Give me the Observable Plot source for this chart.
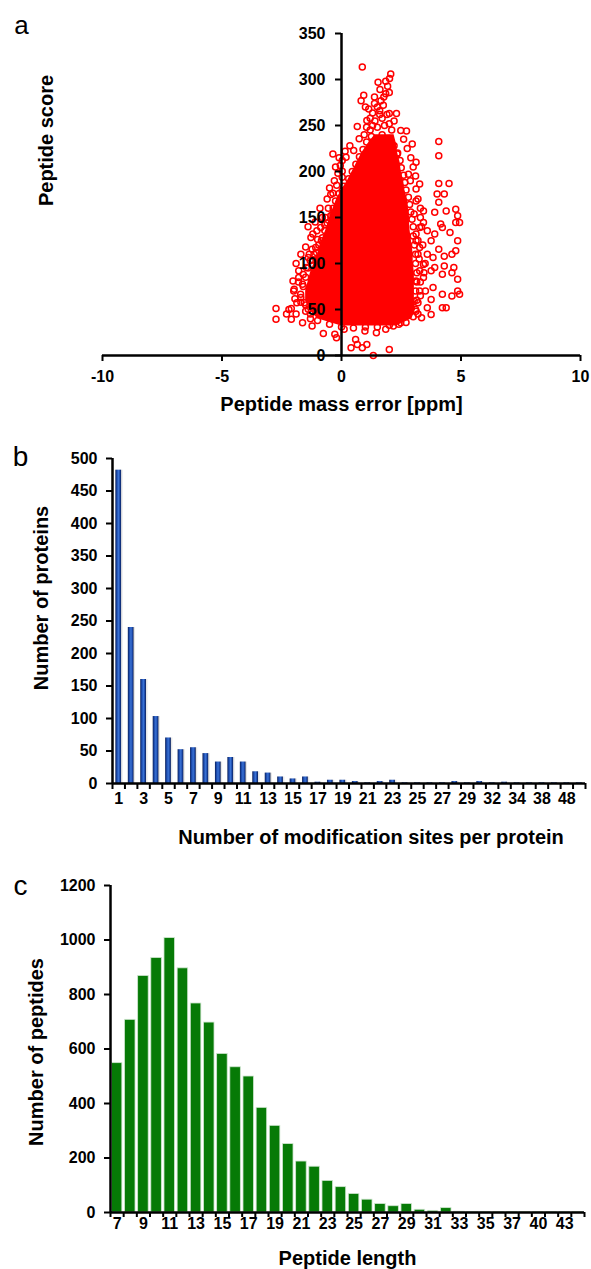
<!DOCTYPE html>
<html>
<head>
<meta charset="utf-8">
<script src="https://cdn.jsdelivr.net/npm/d3@7"></script>
<script src="https://cdn.jsdelivr.net/npm/@observablehq/plot@0.6"></script>
<style>
  html, body { margin: 0; padding: 0; background: #fff; }
  #wrap { width: 591px; }
  #wrap svg { display: block; }
</style>
</head>
<body>
<div id="wrap"></div>
<script>
// ---------------- DATA ----------------
// Panel a: peptide mass error (ppm) vs peptide score
const massErrorTicks = [-10, -5, 0, 5, 10];
const scoreTicks = [0, 50, 100, 150, 200, 250, 300, 350];

// dense (saturated) core of the scatter
const coreScore = [32, 40, 50, 60, 70, 80, 90, 100, 110, 120, 130, 140, 150, 160, 170, 180, 190, 200, 210, 220, 230, 240];
const coreLeft  = [0.0, -1.0, -1.35, -1.5, -1.5, -1.4, -1.3, -1.15, -1.0, -0.9, -0.75, -0.6, -0.5, -0.35, -0.2, 0.0, 0.25, 0.45, 0.65, 0.85, 1.1, 1.4];
const coreRight = [2.3, 2.95, 3.1, 3.05, 3.05, 3.05, 3.05, 3.0, 3.0, 2.95, 2.9, 2.85, 2.85, 2.8, 2.75, 2.65, 2.6, 2.5, 2.45, 2.35, 2.3, 2.2];

// individually visible circles (outliers and ragged edge of the cloud)
const scatterPoints = [
  [0.87,313.7],[2.06,306],[2.01,301],[1.53,297],[1.85,298],[1.93,292.6],[1.61,289],[1.85,284.6],[2.0,286],[1.77,281],
  [0.93,283],[0.82,277],[1.38,281],[1.0,270],[1.14,268],[1.38,274],[1.3,263.5],[1.6,266],[2.3,263],[2.0,263],
  [0.66,249],[1.06,255.5],[2.48,244.6],[2.72,244],[0.74,235.5],[2.96,230],[-0.36,219],[0.19,215.6],[0.51,222.8],[2.33,219],
  [3.12,210],[2.8,197],[3.27,186.5],[3.12,181],[2.88,190],[4.07,232.6],[4.07,217],[4.07,187],[4.5,187],[4.0,175.6],
  [4.3,175.6],[4.07,166.5],[3.43,157],[3.9,155.6],[4.38,157],[4.78,159],[4.86,152],[4.78,144.7],[4.94,144.7],[3.43,144.7],
  [4.15,143],[4.22,139],[3.59,135.6],[3.9,132],[4.54,133.8],[3.12,132],[3.75,124.7],[4.86,124.7],[3.27,117.4],[4.07,115.6],
  [3.59,110],[4.3,108],[4.62,110],[4.78,113.8],[3.83,106.5],[3.43,99],[3.9,95.6],[4.3,97.4],[4.7,95.6],[3.27,92],
  [3.75,92],[4.22,88.3],[4.62,90],[4.86,82.9],[3.43,84.7],[3.83,73.8],[3.51,70],[4.86,70],[4.94,66.5],[4.22,66.5],
  [4.62,64.7],[3.75,61],[3.2,57.4],[3.59,52],[4.22,52],[4.38,52],[3.35,41],[3.75,44.7],[2.48,35.6],[2.17,32],
  [1.85,28.4],[2.0,6.5],[1.33,0],[0.87,8.4],[0.4,8.4],[0.66,12],[1.06,12],[0.59,17.4],[1.46,24.7],[0.98,26.5],
  [0.11,28.4],[-0.28,23],[-0.21,19.3],[-0.76,24],[-1.23,32],[-1.63,35.6],[-2.1,39.3],[-2.74,39.3],[-2.74,51],[-2.1,51],
  [-1.98,72],[-1.95,61.8],[-1.79,92],[-1.31,103],[-1.15,110],[-1.23,115.6],[-1.08,117.4],[-0.84,124.7],[-1.28,128.3],[-1.03,135.6],
  [-0.87,139],[-0.68,150],[-0.36,153.8],[-0.36,176.3],[0.03,179],[0.03,193.7],[0.03,200.3],[0.03,212],[-0.05,206.5],[0.59,183],
  [0.43,172],
  // left lower fringe
  [-1.8,80],[-1.9,100],[-2.0,70],[-1.7,110],[-1.5,118],[-2.2,50],[-2.3,45],[-1.6,88],[-1.3,40],[-1.9,45],
  [-1.5,48],[-1.7,58],[-1.4,140],[-1.2,132],[-1.1,145],[-0.9,160],[-0.6,170],[-0.5,182],[-0.3,190],[-0.15,198],[-0.8,150],
  [-0.55,160],[-0.45,175],[-0.2,185],[-0.25,205],[-0.1,215],[0.15,222],[0.35,228],[-0.7,142],[-1.0,126],[-1.35,110],
  [-1.79,84.7],[-1.63,77.4],[-1.47,95.6],[-2.03,81],[-1.31,70],[-1.71,66.5],[-1.55,57.4],[-1.16,57.4],[-1.39,50.2],
  [-1.0,46.5],[-1.87,57.4],[-1.39,106.5],[-1.0,95.6],
  // right fringe
  [3.3,150],[3.4,120],[3.5,100],[3.3,80],[3.2,170],[3.35,140],[3.25,105],[3.3,65],[3.2,45],[3.45,90],[3.3,160],[3.2,125],
  [3.1,195],[3.0,205],[2.9,215],[2.75,225],[2.6,235],
  [3.12,168],[3.04,153.8],[3.27,139],[3.12,124.7],[3.2,110],[3.12,81],[3.27,70],[3.04,59],[3.12,48],
  // top of the cloud
  [1.2,245],[1.5,248],[1.8,250],[2.1,245],[1.4,255],[1.7,258],[2.0,252],[1.6,262],[1.3,250],[1.9,262],[2.2,255],
  [1.5,270],[1.75,272],[1.65,277],[1.2,258],[0.95,240],[1.05,248],
  // edge of the core
  [-1.0,38],[-1.3,45],[-1.5,55],[-1.7,63],[-1.6,75],[-1.5,85],[-1.4,95],[-1.2,104],[-1.05,112],[-0.95,120],[-0.8,128],
  [-0.7,136],[-0.6,144],[-0.45,152],[-0.35,160],[-0.25,168],[-0.1,176],[0.1,184],[0.3,192],[0.45,200],[0.6,208],
  [0.75,216],[0.9,224],[1.05,232],[1.25,238],[1.7,240],[2.0,236],[2.2,228],[2.35,220],[2.45,212],[2.5,204],[2.6,196],
  [2.65,188],[2.7,180],[2.8,172],[2.85,164],[2.9,156],[2.95,148],[3.0,140],[3.0,130],[3.05,120],[3.1,110],[3.1,100],
  [3.15,90],[3.15,80],[3.1,70],[3.15,60],[3.1,50],[3.0,42],[2.7,36],[-0.5,34],[0,31],[0.5,30],[1.0,31],[1.5,31],[2.0,33],[2.4,34]
];

// Panel b: number of modification sites per protein
const sitesCategories = [1,2,3,4,5,6,7,8,9,10,11,12,13,14,15,16,17,18,19,20,21,22,23,24,25,26,27,28,29,31,32,33,34,36,38,41,48,53];
const proteinCounts   = [482,240,160,103,70,52,55,46,33,40,33,18,16,10,7,10,2,5,5,3,1,3,5,1,1,1,1,3,1,3,1,2,1,1,1,1,1,1];
const proteinTicks = [0, 50, 100, 150, 200, 250, 300, 350, 400, 450, 500];

// Panel c: peptide length distribution
const lengthCategories = [7,8,9,10,11,12,13,14,15,16,17,18,19,20,21,22,23,24,25,26,27,28,29,30,31,32,33,34,35,36,37,38,40,41,43,45];
const peptideCounts    = [548,707,868,934,1007,896,767,697,582,533,499,384,318,251,187,168,116,93,68,47,31,23,31,10,6,16,3,2,1,1,1,1,1,1,1,1];
const peptideTicks = [0, 200, 400, 600, 800, 1000, 1200];

// ---------------- STYLE ----------------
const W = 591;
const FONT = '"Liberation Sans", Arial, Helvetica, sans-serif';
const baseStyle = { fontFamily: FONT, fontSize: "16px", fontWeight: "bold", color: "#000", background: "#fff", overflow: "visible" };
const centered = { textAnchor: "middle", lineAnchor: "middle" };
const wrap = document.getElementById("wrap");

// ---------------- PANEL A ----------------
const A = { top: 33, bottom: 65, left: 102, right: 11, height: 420 };
const xDomA = [-10, 10];
const yAxisDx = (0 - xDomA[0]) / (xDomA[1] - xDomA[0]) * (W - A.left - A.right);
const core = coreScore.map((y, i) => ({ y, x1: coreLeft[i], x2: coreRight[i] }));
const pts = scatterPoints.map(([x, y]) => ({ x, y }));

const plotA = Plot.plot({
  width: W, height: A.height,
  marginTop: A.top, marginBottom: A.bottom, marginLeft: A.left, marginRight: A.right,
  style: baseStyle,
  x: { domain: xDomA },
  y: { domain: [0, 350] },
  marks: [
    Plot.areaX(core, { y: "y", x1: "x1", x2: "x2", fill: "#ff0000" }),
    Plot.dot(pts, { x: "x", y: "y", r: 3, stroke: "#ff0000", strokeWidth: 1.5, fill: "none" }),
    Plot.ruleY([0], { stroke: "#000", strokeWidth: 2.5 }),
    Plot.ruleX([0], { stroke: "#000", strokeWidth: 2.5 }),
    Plot.axisX({ ticks: massErrorTicks, tickSize: 6, tickPadding: 9, strokeWidth: 2, label: null, tickFormat: d => String(d) }),
    Plot.axisY({ ticks: scoreTicks, tickSize: 6, tickPadding: 10, strokeWidth: 2, label: null, dx: yAxisDx, tickFormat: d => String(d) }),
    Plot.text(["Peptide mass error [ppm]"], { frameAnchor: "bottom", dy: 49, fontSize: 20, ...centered }),
    Plot.text(["Peptide score"], { frameAnchor: "left", rotate: -90, dx: -56, dy: -54, fontSize: 20, ...centered }),
    Plot.text(["a"], { frameAnchor: "top-left", dx: -81, dy: -8, fontSize: 26, fontWeight: "normal", ...centered })
  ]
});
wrap.appendChild(plotA);

// ---------------- PANEL B ----------------
const B = { top: 38, bottom: 67, left: 112, right: 6, height: 430 };
const dataB = sitesCategories.map((c, i) => ({ i, c, v: proteinCounts[i] }));
const labelsB = dataB.filter(d => d.i % 2 === 0);
const blueGradient = () => {
  const ns = "http://www.w3.org/2000/svg";
  const defs = document.createElementNS(ns, "defs");
  const g = document.createElementNS(ns, "linearGradient");
  g.setAttribute("id", "blueBar");
  g.setAttribute("x1", "0"); g.setAttribute("x2", "1"); g.setAttribute("y1", "0"); g.setAttribute("y2", "0");
  [["0%", "#081d55"], ["25%", "#1a47a8"], ["55%", "#3a73d6"], ["80%", "#1a46a6"], ["100%", "#071a4e"]].forEach(([o, c]) => {
    const s = document.createElementNS(ns, "stop");
    s.setAttribute("offset", o); s.setAttribute("stop-color", c);
    g.appendChild(s);
  });
  defs.appendChild(g);
  return defs;
};

const plotB = Plot.plot({
  width: W, height: B.height,
  marginTop: B.top, marginBottom: B.bottom, marginLeft: B.left, marginRight: B.right,
  style: baseStyle,
  x: { domain: [0, sitesCategories.length] },
  y: { domain: [0, 500] },
  marks: [
    blueGradient,
    Plot.rectY(dataB, { x1: d => d.i + 0.3, x2: d => d.i + 0.85, y1: 0, y2: "v", fill: "#cfcfcf", fillOpacity: 0.5 }),
    Plot.rectY(dataB, { x1: d => d.i + 0.27, x2: d => d.i + 0.73, y1: 0, y2: "v", fill: "url(#blueBar)" }),
    Plot.ruleY([0], { stroke: "#000", strokeWidth: 2.5 }),
    Plot.ruleX([0], { stroke: "#000", strokeWidth: 2.5 }),
    Plot.axisX({ ticks: d3.range(sitesCategories.length + 1), tickSize: 6, strokeWidth: 2, tickFormat: () => "", label: null }),
    Plot.text(labelsB, { x: d => d.i + 0.5, y: 0, dy: 15, text: d => String(d.c) }),
    Plot.axisY({ ticks: proteinTicks, tickSize: 6, tickPadding: 9, strokeWidth: 2, label: null, tickFormat: d => String(d) }),
    Plot.text(["Number of modification sites per protein"], { frameAnchor: "bottom", dx: 22, dy: 54, fontSize: 20, ...centered }),
    Plot.text(["Number of proteins"], { frameAnchor: "left", rotate: -90, dx: -71, dy: -23, fontSize: 20, ...centered }),
    Plot.text(["b"], { frameAnchor: "top-left", dx: -92, dy: -1, fontSize: 28, fontWeight: "normal", ...centered })
  ]
});
wrap.appendChild(plotB);

// ---------------- PANEL C ----------------
const C = { top: 35, bottom: 57, left: 110, right: 7, height: 419 };
const dataC = lengthCategories.map((c, i) => ({ i, c, v: peptideCounts[i] }));
const labelsC = dataC.filter(d => d.i % 2 === 0);

const plotC = Plot.plot({
  width: W, height: C.height,
  marginTop: C.top, marginBottom: C.bottom, marginLeft: C.left, marginRight: C.right,
  style: baseStyle,
  x: { domain: [0, lengthCategories.length] },
  y: { domain: [0, 1200] },
  marks: [
    Plot.rectY(dataC, { x1: d => d.i + 0.1, x2: d => d.i + 0.9, y1: 0, y2: "v", fill: "#067a06", stroke: "#cfe5cf", strokeWidth: 0.8 }),
    Plot.ruleY([0], { stroke: "#000", strokeWidth: 2.5 }),
    Plot.ruleX([0], { stroke: "#000", strokeWidth: 2.5 }),
    Plot.axisX({ ticks: d3.range(lengthCategories.length + 1), tickSize: 5, strokeWidth: 2, tickFormat: () => "", label: null }),
    Plot.text(labelsC, { x: d => d.i + 0.5, y: 0, dy: 11, text: d => String(d.c) }),
    Plot.axisY({ ticks: peptideTicks, tickSize: 6, tickPadding: 9, strokeWidth: 2, label: null, tickFormat: d => String(d) }),
    Plot.text(["Peptide length"], { frameAnchor: "bottom", dy: 46, fontSize: 20, ...centered }),
    Plot.text(["Number of peptides"], { frameAnchor: "left", rotate: -90, dx: -74, dy: 3, fontSize: 20, ...centered }),
    Plot.text(["c"], { frameAnchor: "top-left", dx: -90, dy: 1, fontSize: 28, fontWeight: "normal", ...centered })
  ]
});
wrap.appendChild(plotC);
</script>
</body>
</html>
